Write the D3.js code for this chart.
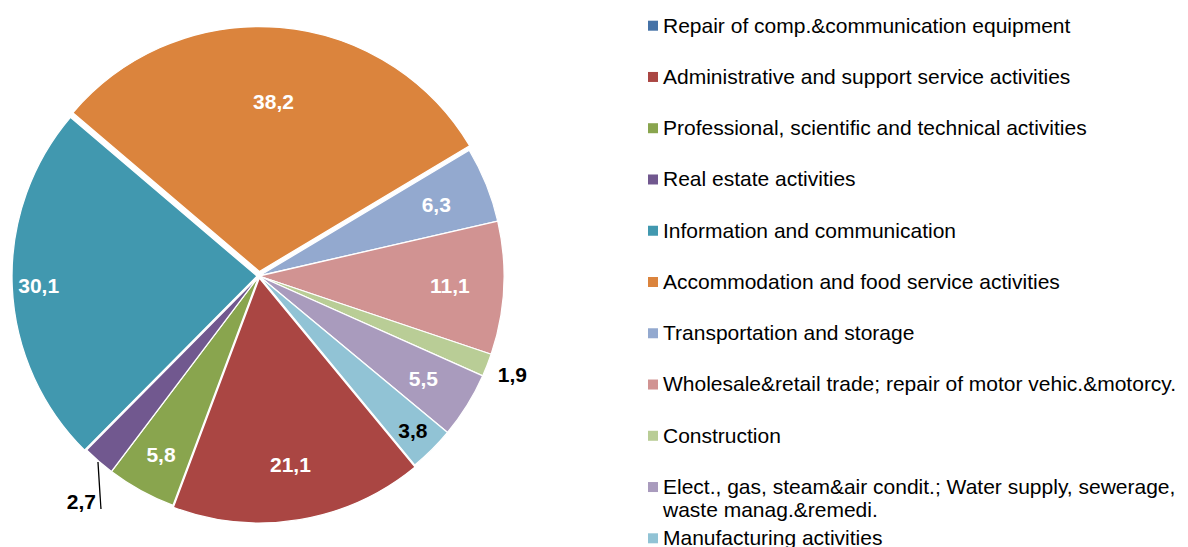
<!DOCTYPE html>
<html>
<head>
<meta charset="utf-8">
<script src="https://cdn.jsdelivr.net/npm/d3@7"></script>
<style>
  body { margin: 0; background: #fff; }
  svg { display: block; font-family: "Liberation Sans", Arial, sans-serif; }
</style>
</head>
<body>
<svg id="chart" width="1188" height="547"></svg>
<script>
// categories in legend order (same order the slices go clockwise)
const categories = [
  'Repair of comp.&communication equipment',
  'Administrative and support service activities',
  'Professional, scientific and technical activities',
  'Real estate activities',
  'Information and communication',
  'Accommodation and food service activities',
  'Transportation and storage',
  'Wholesale&retail trade; repair of motor vehic.&motorcy.',
  'Construction',
  'Elect., gas, steam&air condit.; Water supply, sewerage, waste manag.&remedi.',
  'Manufacturing activities'
];
const values = [0, 21.1, 5.8, 2.7, 30.1, 38.2, 6.3, 11.1, 1.9, 5.5, 3.8];
const colors = ['#4572A7', '#AA4643', '#89A54E', '#71588F', '#4198AF', '#DB843D',
                '#93A9CF', '#D19392', '#B9CD96', '#A99BBD', '#91C3D5'];

// legend text split where the original wraps
const legendLines = {
  'Elect., gas, steam&air condit.; Water supply, sewerage, waste manag.&remedi.':
    ['Elect., gas, steam&air condit.; Water supply, sewerage,', 'waste manag.&remedi.']
};

// label placement ("best fit" look), fraction of radius along slice middle
const labelFit = [null, 0.78, 0.83, 'leader', 0.90, 0.715, 0.78, 0.78, 1.11, 0.79, 0.89];
const darkLabel = [false, false, false, true, false, false, false, false, true, false, true];
const explode = [0, 2, 0, 0, 2, 4.5, 0, 0, 0, 0, 0];

const fmt = v => String(v).replace('.', ',');

const svg = d3.select('#chart');
const cx = 259, cy = 276, R = 245;
const startDeg = 140.5;

const pie = d3.pie()
  .sort(null)
  .value(d => d.value)
  .startAngle(startDeg * Math.PI / 180)
  .endAngle((startDeg + 360) * Math.PI / 180);

const data = categories.map((c, i) => ({ name: c, value: values[i], i }));
const arcs = pie(data);

const arc = d3.arc().innerRadius(0).outerRadius(R);

const g = svg.append('g').attr('transform', `translate(${cx},${cy})`);

g.selectAll('path.slice')
  .data(arcs.filter(a => a.data.value > 0))
  .join('path')
  .attr('class', 'slice')
  .attr('d', arc)
  .attr('fill', d => colors[d.data.i])
  .attr('stroke', '#fff')
  .attr('stroke-width', 1.3)
  .attr('stroke-linejoin', 'round')
  .attr('transform', d => {
    const m = (d.startAngle + d.endAngle) / 2;
    const e = explode[d.data.i];
    return `translate(${e * Math.sin(m)},${-e * Math.cos(m)})`;
  });

// data labels
arcs.forEach(d => {
  const fit = labelFit[d.data.i];
  if (fit == null || d.data.value <= 0) return;
  const m = (d.startAngle + d.endAngle) / 2;
  const col = darkLabel[d.data.i] ? '#000' : '#fff';
  if (fit === 'leader') {
    const x0 = (R + 1) * Math.sin(m), y0 = -(R + 1) * Math.cos(m);
    const x1 = x0 + 3, y1 = y0 + 47;
    g.append('line')
      .attr('x1', x0).attr('y1', y0).attr('x2', x1).attr('y2', y1)
      .attr('stroke', '#000').attr('stroke-width', 1.3);
    g.append('text')
      .attr('x', x1 - 5).attr('y', y1)
      .attr('text-anchor', 'end')
      .attr('font-size', 21).attr('font-weight', 'bold')
      .attr('fill', col)
      .text(fmt(d.data.value));
    return;
  }
  const la = d3.arc().innerRadius(R * fit).outerRadius(R * fit);
  const [x, y] = la.centroid(d);
  g.append('text')
    .attr('x', x).attr('y', y)
    .attr('dy', '0.36em')
    .attr('text-anchor', 'middle')
    .attr('font-size', 21).attr('font-weight', 'bold')
    .attr('fill', col)
    .text(fmt(d.data.value));
});

// legend
const legY = d3.scalePoint().domain(categories).range([25.7, 538.3]);
const leg = svg.append('g');
const item = leg.selectAll('g')
  .data(categories)
  .join('g')
  .attr('transform', d => `translate(648,${legY(d)})`);

item.append('rect')
  .attr('x', 0).attr('y', -5)
  .attr('width', 10).attr('height', 10)
  .attr('fill', (d, i) => colors[i]);

item.append('text')
  .attr('x', 15)
  .attr('font-size', 21)
  .attr('fill', '#000')
  .each(function(d) {
    const lines = legendLines[d] || [d];
    d3.select(this).selectAll('tspan')
      .data(lines)
      .join('tspan')
      .attr('x', 15)
      .attr('y', (l, j) => j * 23.5)
      .attr('dy', '0.33em')
      .text(l => l);
  });
</script>
</body>
</html>
